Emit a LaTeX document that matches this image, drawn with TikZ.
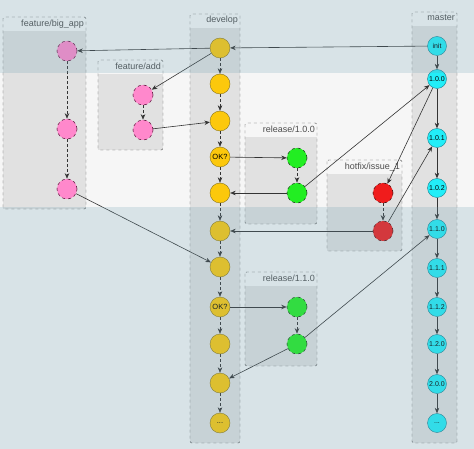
\documentclass[tikz,border=0pt]{standalone}
\usepackage{fontspec}
\setmainfont{Liberation Sans}
\usetikzlibrary{arrows.meta}

\definecolor{bgbase}{HTML}{F6F6F6}
\definecolor{bandblue}{HTML}{6FA0B3}
\definecolor{lanefill}{HTML}{C8C8C8}
\definecolor{laneline}{HTML}{555555}
\definecolor{devyellow}{HTML}{FCC80C}
\definecolor{devline}{HTML}{8A7418}
\definecolor{featpink}{HTML}{FF88CC}
\definecolor{featline}{HTML}{6A2048}
\definecolor{relgreen}{HTML}{22EE22}
\definecolor{relline}{HTML}{1F4A1F}
\definecolor{fixred}{HTML}{F01C1C}
\definecolor{fixline}{HTML}{5A1010}
\definecolor{mastercyan}{HTML}{22EEF8}
\definecolor{masterline}{HTML}{1C7C8C}
\definecolor{edgegray}{HTML}{333333}

\begin{document}
\begin{tikzpicture}[x=1pt,y=-1pt,
    lanebox/.style={draw=laneline,dashed,thin,rounded corners=1.5pt},
    lanebody/.style={fill=lanefill,fill opacity=0.45},
    lanelabel/.style={anchor=north east,inner sep=1pt,text=black!70,font=\fontsize{9}{10}\selectfont},
    commit/.style={circle,minimum size=20pt,inner sep=0pt,thin,font=\fontsize{7.5}{8}\selectfont},
    devcommit/.style={commit,fill=devyellow,draw=devline},
    featcommit/.style={commit,fill=featpink,draw=featline,dashed,semithick},
    relcommit/.style={commit,fill=relgreen,draw=relline,dashed,semithick},
    fixcommit/.style={commit,fill=fixred,draw=fixline,dashed,semithick},
    mastercommit/.style={commit,minimum size=19pt,fill=mastercyan,draw=masterline,font=\fontsize{7}{8}\selectfont},
    flow/.style={draw=edgegray,line width=0.6pt,-{Stealth[length=5.5pt,width=4.5pt]}},
    chain/.style={flow,dash pattern=on 3pt off 2pt}]

    % Background
    \useasboundingbox (0,0) rectangle (474,449);
    \fill[bgbase] (0,0) rectangle (474,449);

    % Lanes
    \fill[lanebody] (3,31) rectangle (86,209);
    \draw[lanebox] (3,17) rectangle (86,209);
    \node[lanelabel] (lbig) at (85,19) {feature/big\_app};

    \fill[lanebody] (98,74) rectangle (163,150);
    \draw[lanebox] (98,60) rectangle (163,150);
    \node[lanelabel] (ladd) at (162,62) {feature/add};

    \fill[lanebody] (190,28) rectangle (240,443);
    \draw[lanebox] (190,14) rectangle (240,443);
    \node[lanelabel] (ldev) at (239,15) {develop};

    \fill[lanebody] (245,137) rectangle (317,224);
    \draw[lanebox] (245,123) rectangle (317,224);
    \node[lanelabel] (lrelA) at (316,125) {release/1.0.0};

    \fill[lanebody] (327,174) rectangle (402,251);
    \draw[lanebox] (327,160) rectangle (402,251);
    \node[lanelabel] (lfix) at (401,162) {hotfix/issue\_1};

    \fill[lanebody] (245,286) rectangle (317,366);
    \draw[lanebox] (245,272) rectangle (317,366);
    \node[lanelabel] (lrelB) at (316,274) {release/1.1.0};

    \fill[lanebody] (412,26) rectangle (457,443);
    \draw[lanebox] (412,12) rectangle (457,443);
    \node[lanelabel] (lmaster) at (456,13) {master};

    % develop
    \node[devcommit] (d1) at (220,48) {};
    \node[devcommit] (d2) at (220,84) {};
    \node[devcommit] (d3) at (220,121) {};
    \node[devcommit] (d4) at (220,157) {OK?};
    \node[devcommit] (d5) at (220,193) {};
    \node[devcommit] (d6) at (220,231) {};
    \node[devcommit] (d7) at (220,267) {};
    \node[devcommit] (d8) at (220,307) {OK?};
    \node[devcommit] (d9) at (220,344) {};
    \node[devcommit] (d10) at (220,383) {};
    \node[devcommit] (d11) at (220,423) {...};

    % features
    \node[featcommit] (b1) at (67,51) {};
    \node[featcommit] (b2) at (67,129) {};
    \node[featcommit] (b3) at (67,189) {};
    \node[featcommit] (a1) at (143,95) {};
    \node[featcommit] (a2) at (143,130) {};

    % releases and hotfix
    \node[relcommit] (r1) at (297,158) {};
    \node[relcommit] (r2) at (297,193) {};
    \node[relcommit] (s1) at (297,307) {};
    \node[relcommit] (s2) at (297,344) {};
    \node[fixcommit] (h1) at (383,193) {};
    \node[fixcommit] (h2) at (383,231) {};

    % master
    \node[mastercommit] (m0) at (437,46) {init};
    \node[mastercommit] (m1) at (437,79) {1.0.0};
    \node[mastercommit] (m2) at (437,138) {1.0.1};
    \node[mastercommit] (m3) at (437,188) {1.0.2};
    \node[mastercommit] (m4) at (437,229) {1.1.0};
    \node[mastercommit] (m5) at (437,268) {1.1.1};
    \node[mastercommit] (m6) at (437,307) {1.1.2};
    \node[mastercommit] (m7) at (437,344) {1.2.0};
    \node[mastercommit] (m8) at (437,384) {2.0.0};
    \node[mastercommit] (m9) at (437,423) {...};

    % Chains
    \foreach \a/\b in {d1/d2,d2/d3,d3/d4,d4/d5,d5/d6,d6/d7,d7/d8,d8/d9,d9/d10,d10/d11,
                       b1/b2,b2/b3,a1/a2,r1/r2,s1/s2,h1/h2}
        \draw[chain] (\a) -- (\b);
    \foreach \a/\b in {m0/m1,m1/m2,m2/m3,m3/m4,m4/m5,m5/m6,m6/m7,m7/m8,m8/m9}
        \draw[flow] (\a) -- (\b);

    % Merges and branches
    \draw[flow] (m0) -- (d1);
    \draw[flow] (d1) -- (b1);
    \draw[flow] (d1) -- (a1);
    \draw[flow] (a2) -- (d3);
    \draw[flow] (b3) -- (d7);
    \draw[flow] (d4) -- (r1);
    \draw[flow] (r2) -- (d5);
    \draw[flow] (r2) -- (m1);
    \draw[flow] (m1) -- (h1);
    \draw[flow] (h2) -- (d6);
    \draw[flow] (h2) -- (m2);
    \draw[flow] (d8) -- (s1);
    \draw[flow] (s2) -- (m4);
    \draw[flow] (s2) -- (d10);

    % Tinted bands
    \fill[bandblue,opacity=0.22] (0,0) rectangle (474,73);
    \fill[bandblue,opacity=0.22] (0,207) rectangle (474,449);
\end{tikzpicture}
\end{document}
